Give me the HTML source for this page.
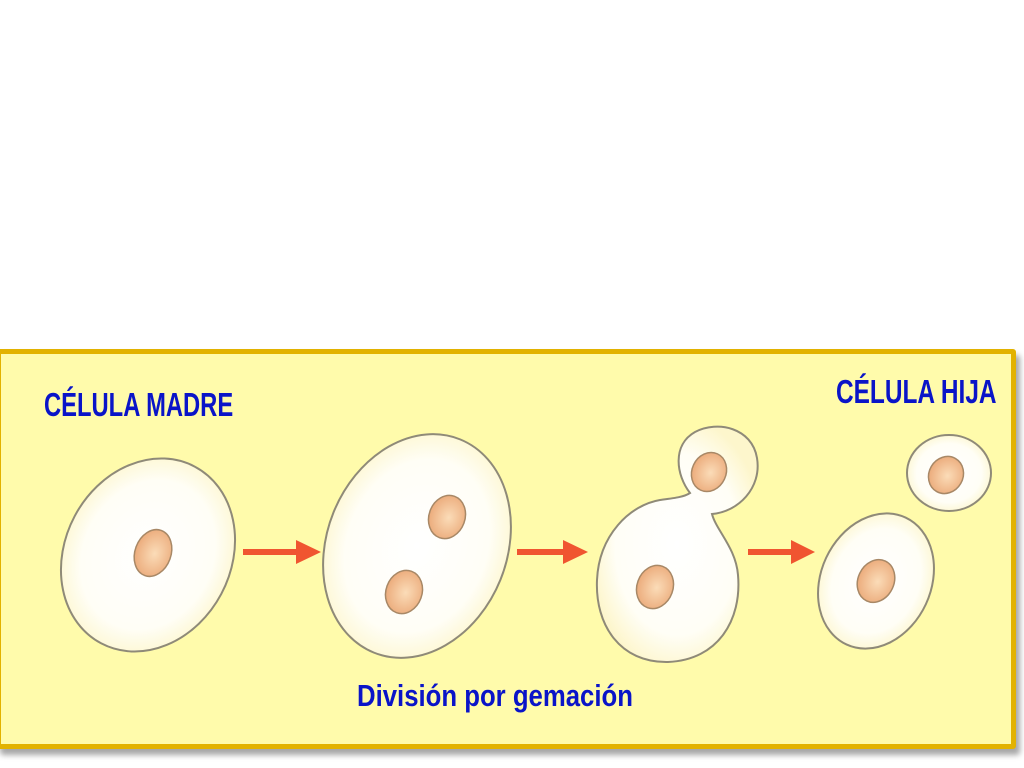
<!DOCTYPE html>
<html><head><meta charset="utf-8"><style>
html,body{margin:0;padding:0;background:#fff;width:1024px;height:768px;overflow:hidden}
.box{position:absolute;left:-4px;top:349px;width:1010px;height:390px;background:#fffbab;border:5px solid #e2b200;border-radius:3px;box-shadow:4px 6px 6px rgba(0,0,0,0.35)}
.t{position:absolute;font-family:"Liberation Sans Narrow","Liberation Sans",sans-serif;font-weight:bold;color:#0a14c8;white-space:nowrap;transform-origin:0 0}
svg{position:absolute;left:0;top:0}
</style></head><body>
<div class="box"></div>
<div class="t" style="left:44px;top:386px;font-size:33px;transform:scaleX(0.72)">CÉLULA MADRE</div>
<div class="t" style="left:836px;top:373px;font-size:33px;transform:scaleX(0.74)">CÉLULA HIJA</div>
<div class="t" style="left:357px;top:678px;font-size:31px;transform:scaleX(0.83)">División por gemación</div>
<svg width="1024" height="768">
<defs>
<radialGradient id="c" cx="50%" cy="50%" r="55%"><stop offset="0" stop-color="#fff"/><stop offset="0.7" stop-color="#fffef6"/><stop offset="1" stop-color="#fdf6cc"/></radialGradient>
<radialGradient id="n" cx="55%" cy="50%" r="60%"><stop offset="0" stop-color="#fbdcb8"/><stop offset="1" stop-color="#eaa776"/></radialGradient>
</defs>
<g fill="url(#c)" stroke="#8f8a78" stroke-width="2">
<ellipse cx="148" cy="555" rx="83" ry="100" transform="rotate(28 148 555)"/>
<ellipse cx="417" cy="546" rx="90" ry="115" transform="rotate(22 417 546)"/>
<path d="M690,493 C676,475 672,445 695,432 C718,420 752,428 757,458 C762,488 738,512 712,514 C716,530 736,548 738,575 C742,620 718,660 668,662 C620,663 595,625 597,580 C599,535 630,505 660,500 C675,498 684,497 690,493 Z"/>
<ellipse cx="876" cy="581" rx="55" ry="70" transform="rotate(25 876 581)"/>
<ellipse cx="949" cy="473" rx="42" ry="38"/>
</g>
<g fill="url(#n)" stroke="#a88866" stroke-width="1.5">
<ellipse cx="153" cy="553" rx="18" ry="24" transform="rotate(20 153 553)"/>
<ellipse cx="447" cy="517" rx="18" ry="22" transform="rotate(20 447 517)"/>
<ellipse cx="404" cy="592" rx="18" ry="22" transform="rotate(20 404 592)"/>
<ellipse cx="709" cy="472" rx="17" ry="20" transform="rotate(25 709 472)"/>
<ellipse cx="655" cy="587" rx="18" ry="22" transform="rotate(20 655 587)"/>
<ellipse cx="876" cy="581" rx="18" ry="22" transform="rotate(25 876 581)"/>
<ellipse cx="946" cy="475" rx="17" ry="19" transform="rotate(30 946 475)"/>
</g>
<g fill="#f05530" stroke="none">
<rect x="243" y="549" width="55" height="6"/><polygon points="296,540 321,552 296,564"/>
<rect x="517" y="549" width="48" height="6"/><polygon points="563,540 588,552 563,564"/>
<rect x="748" y="549" width="45" height="6"/><polygon points="791,540 815,552 791,564"/>
</g>
</svg>
</body></html>
